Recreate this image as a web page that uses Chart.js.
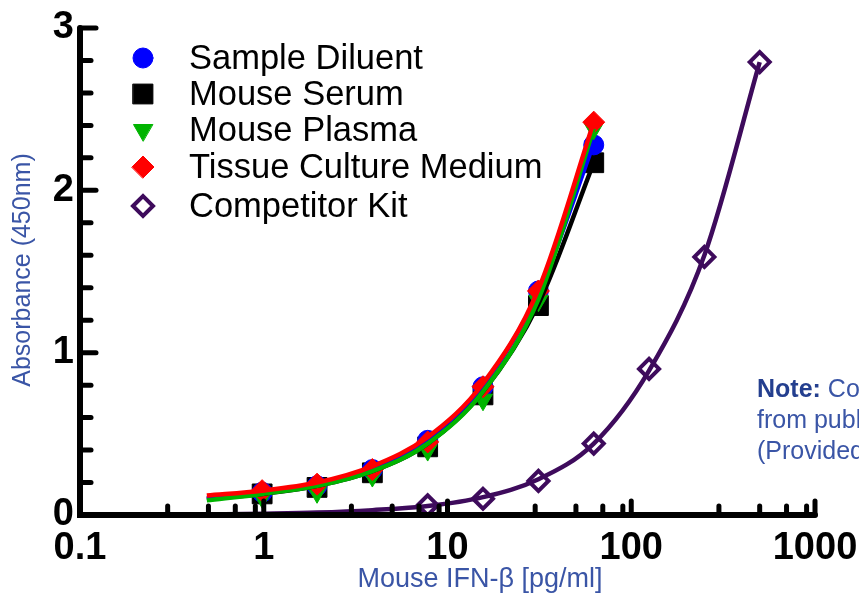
<!DOCTYPE html>
<html>
<head>
<meta charset="utf-8">
<script src="https://cdn.jsdelivr.net/npm/chart.js@4.4.0/dist/chart.umd.min.js"></script>
<style>
  html, body { margin: 0; padding: 0; background: #fff; }
  #wrap { width: 859px; height: 597px; position: relative; }
</style>
</head>
<body>
<div id="wrap"><canvas id="elisaChart"></canvas></div>
<script>
// concentrations (pg/ml) of the standards
const concentrations = [0.98, 1.95, 3.9, 7.8, 15.6, 31.25, 62.5]
const fitX = [0.49, 0.98, 1.95, 3.9, 7.8, 15.6, 31.25, 62.5]
const competitorX = [7.8, 15.6, 31.25, 62.5, 125, 250, 500]
const competitorFitX = [0.49, 0.98, 1.95, 3.9, 7.8, 15.6, 31.25, 62.5, 125, 250, 500]

// measured absorbance (markers)
const sampleDiluent = [0.14, 0.18, 0.28, 0.46, 0.79, 1.38, 2.28]
const mouseSerum = [0.13, 0.17, 0.26, 0.42, 0.74, 1.29, 2.17]
const mousePlasma = [0.11, 0.14, 0.24, 0.40, 0.71, 1.32, 2.38]
const tissueCulture = [0.15, 0.19, 0.28, 0.45, 0.79, 1.38, 2.42]
const competitorKit = [0.06, 0.10, 0.21, 0.44, 0.90, 1.59, 2.79]

// fitted curves
const sampleDiluentFit = [0.10, 0.14, 0.19, 0.29, 0.47, 0.80, 1.37, 2.29]
const mouseSerumFit = [0.10, 0.13, 0.18, 0.27, 0.44, 0.76, 1.30, 2.17]
const mousePlasmaFit = [0.09, 0.13, 0.18, 0.27, 0.44, 0.76, 1.33, 2.38]
const tissueCultureFit = [0.12, 0.15, 0.20, 0.30, 0.48, 0.81, 1.39, 2.42]
const competitorFit = [0.003, 0.008, 0.015, 0.03, 0.055, 0.11, 0.22, 0.44, 0.89, 1.6, 2.79]

// axis ticks
const xMajorTicks = [0.1, 1, 10, 100, 1000]
const xMinorSteps = [3, 5, 7, 9]
const yMajorTicks = [0, 1, 2, 3]
const yMinorStep = 0.2

const legendLabels = ['Sample Diluent', 'Mouse Serum', 'Mouse Plasma', 'Tissue Culture Medium', 'Competitor Kit']
const noteLines = [['Note: ', 'Competitor'], ['', 'from published'], ['', '(Provided']]

const purple = '#3e0b5c'
const textFont = '"Liberation Sans", Arial, sans-serif'

function toXY(xs, ys) {
  return xs.map((x, i) => ({ x: x, y: ys[i] }))
}

function fitLine(label, xs, ys, color, order) {
  return {
    type: 'line',
    label: label,
    data: toXY(xs, ys),
    borderColor: color,
    borderWidth: 4.5,
    pointRadius: 0,
    fill: false,
    cubicInterpolationMode: 'monotone',
    order: order,
  }
}

function markers(label, xs, ys, color, style, order, extra) {
  return Object.assign({
    type: 'scatter',
    label: label,
    data: toXY(xs, ys),
    backgroundColor: color,
    borderColor: color,
    borderWidth: 1,
    pointStyle: style,
    pointRadius: 10,
    order: order,
  }, extra || {})
}

// legend marker shapes
const legendMarkers = [
  { color: '#0000ff', style: 'circle', radius: 10 },
  { color: '#000000', style: 'rect', radius: 14 },
  { color: '#00b400', style: 'triangle', radius: 11, rotation: 180 },
  { color: '#ff0000', style: 'rectRot', radius: 11 },
  { color: purple, style: 'rectRot', radius: 10, hollow: true },
]

// draws the thick axes, inward ticks, legend, titles and the note
const decorPlugin = {
  id: 'decor',
  afterDraw(chart) {
    const ctx = chart.ctx
    const xs = chart.scales.x
    const ys = chart.scales.y
    const area = chart.chartArea
    ctx.save()
    ctx.strokeStyle = '#000'
    ctx.lineCap = 'round'

    // axis lines
    ctx.lineWidth = 6
    ctx.beginPath()
    ctx.moveTo(area.left, ys.getPixelForValue(3))
    ctx.lineTo(area.left, area.bottom)
    ctx.lineTo(xs.getPixelForValue(1000), area.bottom)
    ctx.stroke()

    // y ticks
    ctx.lineWidth = 5
    for (let v = 0; v <= 3.001; v += yMinorStep) {
      const py = ys.getPixelForValue(v)
      const major = Math.abs(v - Math.round(v)) < 0.01
      ctx.beginPath()
      ctx.moveTo(area.left, py)
      ctx.lineTo(area.left + (major ? 16 : 11), py)
      ctx.stroke()
    }

    // x ticks
    xMajorTicks.forEach((m, i) => {
      const px = xs.getPixelForValue(m)
      ctx.beginPath()
      ctx.moveTo(px, area.bottom)
      ctx.lineTo(px, area.bottom - 14)
      ctx.stroke()
      if (i < xMajorTicks.length - 1) {
        xMinorSteps.forEach((s) => {
          const mx = xs.getPixelForValue(m * s)
          ctx.beginPath()
          ctx.moveTo(mx, area.bottom)
          ctx.lineTo(mx, area.bottom - 9)
          ctx.stroke()
        })
      }
    })

    // legend
    const legendY = [58, 94, 130, 167, 206]
    legendLabels.forEach((text, i) => {
      const mk = legendMarkers[i]
      ctx.save()
      ctx.fillStyle = mk.hollow ? '#fff' : mk.color
      ctx.strokeStyle = mk.color
      ctx.lineWidth = mk.hollow ? 4 : 1
      Chart.helpers.drawPoint(ctx, {
        pointStyle: mk.style,
        radius: mk.radius,
        rotation: mk.rotation || 0,
        borderWidth: ctx.lineWidth,
      }, 143, legendY[i])
      ctx.restore()
      ctx.fillStyle = '#000'
      ctx.font = '34.5px ' + textFont
      ctx.textBaseline = 'middle'
      ctx.textAlign = 'left'
      ctx.fillText(text, 189, legendY[i] + 1)
    })

    // axis titles
    ctx.fillStyle = '#3a55a6'
    ctx.font = '27px ' + textFont
    ctx.textAlign = 'center'
    ctx.textBaseline = 'middle'
    ctx.fillText('Mouse IFN-\u03b2 [pg/ml]', 480, 580)
    ctx.font = '25px ' + textFont
    ctx.save()
    ctx.translate(23, 270)
    ctx.rotate(-Math.PI / 2)
    ctx.fillText('Absorbance (450nm)', 0, 0)
    ctx.restore()

    // note at the right edge
    ctx.textAlign = 'left'
    noteLines.forEach((line, i) => {
      const y = 390 + i * 31
      let x = 757
      if (line[0]) {
        ctx.font = 'bold 25px ' + textFont
        ctx.fillStyle = '#243f8f'
        ctx.fillText(line[0], x, y)
        x += ctx.measureText(line[0]).width
      }
      ctx.font = '25px ' + textFont
      ctx.fillStyle = '#3a55a6'
      ctx.fillText(line[1], x, y)
    })
    ctx.restore()
  },
}

const ctx = document.getElementById('elisaChart').getContext('2d')
new Chart(ctx, {
  data: {
    datasets: [
      fitLine('Tissue Culture Medium fit', fitX, tissueCultureFit, '#ff0000', 0),
      fitLine('Mouse Plasma fit', fitX, mousePlasmaFit, '#00b400', 1),
      fitLine('Sample Diluent fit', fitX, sampleDiluentFit, '#0000ff', 2),
      fitLine('Mouse Serum fit', fitX, mouseSerumFit, '#000000', 3),
      markers('Tissue Culture Medium', concentrations, tissueCulture, '#ff0000', 'rectRot', 4, { pointRadius: 11 }),
      markers('Mouse Plasma', concentrations, mousePlasma, '#00b400', 'triangle', 5, { pointRadius: 11, rotation: 180 }),
      markers('Sample Diluent', concentrations, sampleDiluent, '#0000ff', 'circle', 6),
      markers('Mouse Serum', concentrations, mouseSerum, '#000000', 'rect', 7, { pointRadius: 14 }),
      fitLine('Competitor Kit fit', competitorFitX, competitorFit, purple, 8),
      markers('Competitor Kit', competitorX, competitorKit, '#ffffff', 'rectRot', 9, {
        borderColor: purple,
        borderWidth: 4,
        pointRadius: 10,
      }),
    ],
  },
  options: {
    responsive: true,
    maintainAspectRatio: false,
    animation: false,
    layout: { padding: { left: 0, right: 44, top: 28, bottom: 0 } },
    plugins: {
      legend: { display: false },
      tooltip: { enabled: false },
    },
    scales: {
      x: {
        type: 'logarithmic',
        min: 0.1,
        max: 1000,
        grid: { display: false, drawTicks: false },
        border: { display: false },
        afterBuildTicks: (scale) => {
          scale.ticks = xMajorTicks.map((v) => ({ value: v, major: true }))
        },
        afterFit: (scale) => {
          scale.height = 82
          scale.paddingLeft = 0
          scale.paddingRight = 0
        },
        ticks: {
          color: '#000',
          padding: 11,
          maxRotation: 0,
          autoSkip: false,
          font: { family: textFont, size: 38, weight: 'bold' },
          callback: (v) => String(v),
        },
      },
      y: {
        min: 0,
        max: 3,
        grid: { display: false, drawTicks: false },
        border: { display: false },
        afterBuildTicks: (scale) => {
          scale.ticks = yMajorTicks.map((v) => ({ value: v }))
        },
        afterFit: (scale) => {
          scale.width = 80
          scale.paddingTop = 0
          scale.paddingBottom = 0
        },
        ticks: {
          color: '#000',
          padding: 6,
          font: { family: textFont, size: 38, weight: 'bold' },
        },
      },
    },
  },
  plugins: [decorPlugin],
})
</script>
</body>
</html>
